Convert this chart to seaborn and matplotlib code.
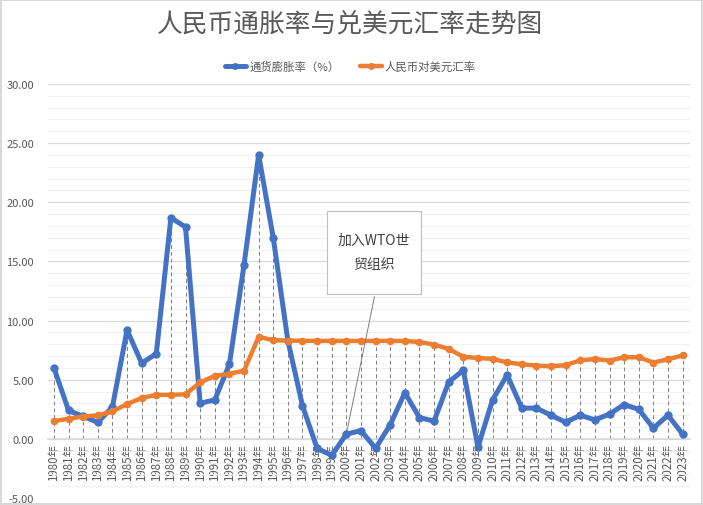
import numpy as np
import pandas as pd
import matplotlib
matplotlib.use("Agg")
import matplotlib.pyplot as plt
from matplotlib.lines import Line2D
from matplotlib.patches import Rectangle
import seaborn as sns

# data
years = list(range(1980, 2024))
year_labels = [f"{y}年" for y in years]
inflation = [6.0, 2.4, 1.9, 1.4, 2.7, 9.2, 6.4, 7.2, 18.7, 17.9,
             3.0, 3.3, 6.3, 14.7, 24.0, 17.0, 8.3, 2.8, -0.8, -1.4,
             0.4, 0.7, -0.8, 1.2, 3.9, 1.8, 1.5, 4.8, 5.8, -0.7,
             3.3, 5.4, 2.6, 2.6, 2.0, 1.4, 2.0, 1.6, 2.1, 2.9,
             2.5, 0.9, 2.0, 0.4]
fx_rate = [1.50, 1.70, 1.89, 1.98, 2.32, 2.94, 3.45, 3.72, 3.72, 3.77,
           4.78, 5.32, 5.51, 5.76, 8.62, 8.35, 8.31, 8.29, 8.28, 8.28,
           8.28, 8.28, 8.28, 8.28, 8.28, 8.19, 7.97, 7.60, 6.95, 6.83,
           6.77, 6.46, 6.31, 6.19, 6.14, 6.23, 6.64, 6.75, 6.62, 6.90,
           6.90, 6.45, 6.73, 7.05]
series_names = ["通货膨胀率（%）", "人民币对美元汇率"]
wto_index = 20

BLUE = "#4472C4"
ORANGE = "#ED7D31"
TEXT = "#595959"

sns.set_theme(style="white")
plt.rcParams["font.family"] = ["Noto Sans CJK SC", "DejaVu Sans"]

df = pd.DataFrame({"idx": np.arange(len(years)), "inflation": inflation, "fx": fx_rate})

fig, ax = plt.subplots(figsize=(7.03, 5.06), dpi=100)
fig.subplots_adjust(left=0.068, right=0.981, top=0.832, bottom=0.0138)
fig.patch.set_edgecolor("#d9d9d9")
fig.patch.set_linewidth(1.5)

# x axis crosses at zero (set first: it resets tick settings)
for side in ["top", "right", "left"]:
    ax.spines[side].set_visible(False)
ax.spines["bottom"].set_position(("data", 0))
ax.spines["bottom"].set_color("#d9d9d9")

# drop lines
ax.vlines(df["idx"], 0, np.maximum(df["inflation"], df["fx"]), colors="#7f7f7f",
          linestyles=(0, (4, 3)), linewidth=0.7, zorder=1)

sns.lineplot(data=df, x="idx", y="inflation", ax=ax, color=BLUE, linewidth=3.6,
             marker="o", markersize=6, markeredgewidth=0, zorder=3)
sns.lineplot(data=df, x="idx", y="fx", ax=ax, color=ORANGE, linewidth=3.2,
             marker="o", markersize=5.5, markeredgewidth=0, zorder=4)

# axes formatting
ax.set_ylim(-5, 30)
ax.set_xlim(-0.42, len(years) - 1 + 0.48)
ax.set_yticks(np.arange(-5, 31, 5))
ax.set_yticks(np.arange(-5, 31, 1), minor=True)
ax.set_yticklabels([f"{v:.2f}" for v in np.arange(-5, 31, 5)], fontsize=8, color=TEXT)
ax.grid(axis="y", which="major", color="#d9d9d9", linewidth=0.9, zorder=0)
ax.grid(axis="y", which="minor", color="#f0f0f0", linewidth=0.8, zorder=0)
ax.set_axisbelow(True)
ax.set_xticks(df["idx"])
ax.set_xticklabels(year_labels, rotation=90, fontsize=8.3, color=TEXT, va="top", ha="center")
ax.tick_params(axis="x", length=0, pad=3)
ax.tick_params(axis="y", length=0, pad=10, which="both")
ax.set_xlabel("")
ax.set_ylabel("")

# title and legend
fig.text(350 / 703, 1 - 25 / 506, "人民币通胀率与兑美元汇率走势图", ha="center", va="center",
         fontsize=18.5, color=TEXT)
handles = [Line2D([], [], color=BLUE, linewidth=3.6, marker="o", markersize=5, markeredgewidth=0),
           Line2D([], [], color=ORANGE, linewidth=3.2, marker="o", markersize=5, markeredgewidth=0)]
fig.legend(handles, series_names, loc="center", bbox_to_anchor=(350 / 703, 1 - 67 / 506),
           ncol=2, frameon=False, fontsize=8.2, handlelength=1.9, columnspacing=1.8,
           handletextpad=0.25, labelcolor=TEXT)

# WTO callout
box_l, box_t, box_r, box_b = 327, 212, 421, 295
fig.patches.append(Rectangle((box_l / 703, 1 - box_b / 506), (box_r - box_l) / 703,
                             (box_b - box_t) / 506, transform=fig.transFigure,
                             facecolor="white", edgecolor="#bfbfbf", linewidth=0.8, zorder=5))
fig.text((box_l + box_r) / 2 / 703, 1 - 253 / 506, "加入WTO世\n贸组织", ha="center", va="center",
         fontsize=10, color="#404040", linespacing=1.9, zorder=6)
ax.annotate("", xy=(wto_index, inflation[wto_index]), xycoords="data",
            xytext=(375 / 703, 1 - box_b / 506), textcoords="figure fraction",
            arrowprops=dict(arrowstyle="-", color="#7f7f7f", linewidth=0.7), zorder=5)

fig.savefig("out.png", dpi=100)
